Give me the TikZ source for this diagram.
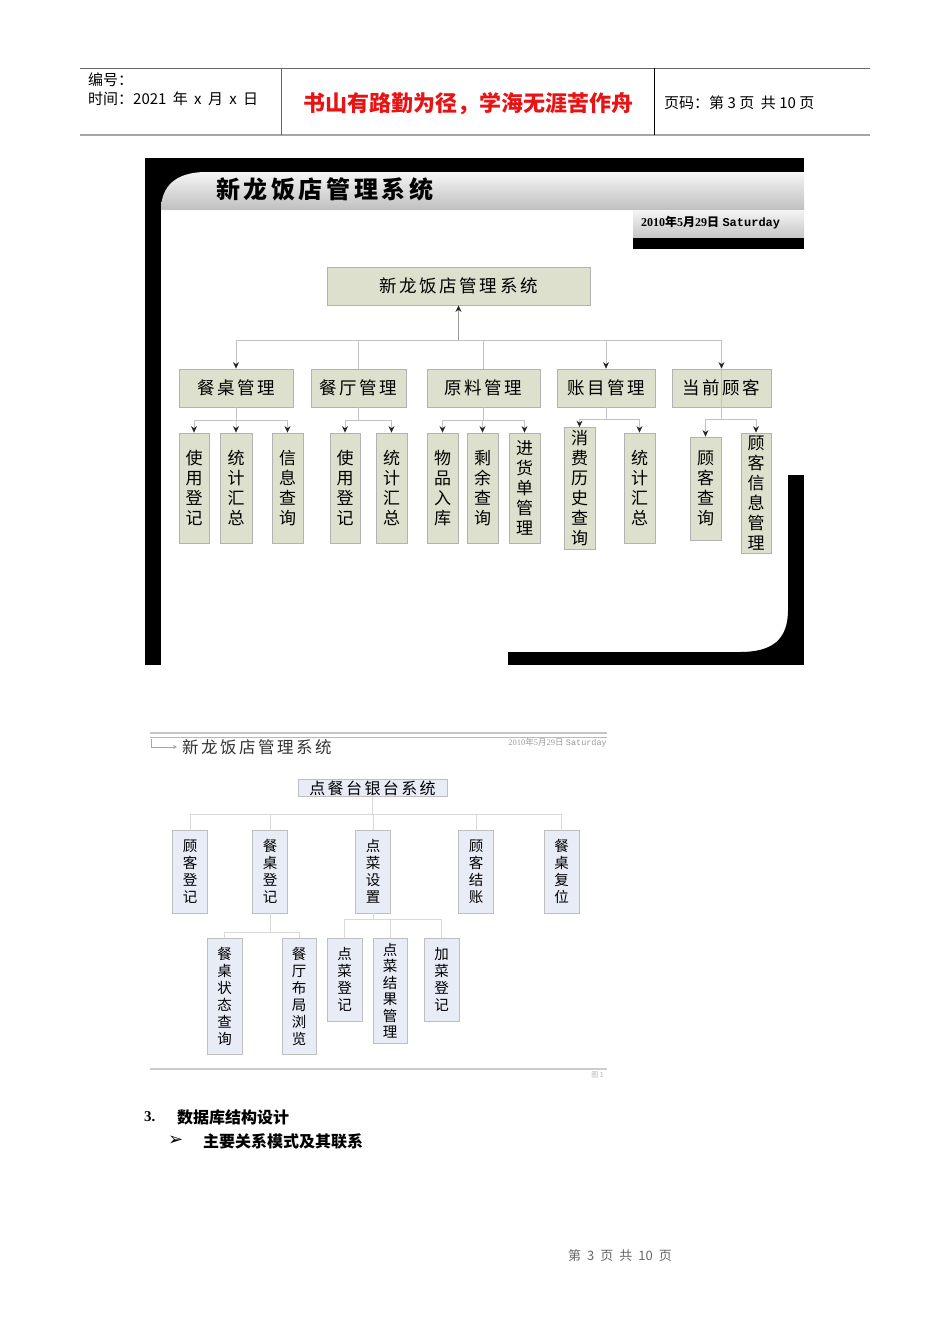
\documentclass[tikz,border=0pt]{standalone}
\usepackage{fontspec}
\setmainfont{Liberation Sans}
\newfontfamily\cjk{Noto Sans CJK SC}
\newfontfamily\cjksp[LetterSpace=15]{Noto Sans CJK SC}
\newfontfamily\monofont{Liberation Mono}
\newfontfamily\timesfont{Liberation Serif}
\newfontfamily\symfont{DejaVu Sans}
\usetikzlibrary{arrows.meta}
\definecolor{boxgreen}{RGB}{220,224,204}
\definecolor{boxblue}{RGB}{232,236,247}
\definecolor{linegray}{RGB}{195,195,195}
\definecolor{mottored}{RGB}{230,20,20}

\begin{document}
\begin{tikzpicture}[x=1pt, y=-1pt, font=\cjk]
\tikzstyle{topbox} = [rectangle, fill=boxgreen, draw=gray!60, line width=0.8, inner sep=0pt, minimum height=38, text centered, font=\cjksp\fontsize{17.5}{20}\selectfont]
\tikzstyle{leaf} = [rectangle, fill=boxgreen, draw=gray!60, line width=0.8, inner sep=0pt, minimum width=31, align=center, font=\cjk\fontsize{17}{20}\selectfont]
\tikzstyle{bluebox} = [rectangle, fill=boxblue, draw=gray!50, line width=0.8, inner sep=0pt, text centered, font=\cjksp\fontsize{16}{18}\selectfont]
\tikzstyle{bleaf} = [rectangle, fill=boxblue, draw=gray!50, line width=0.8, inner sep=0pt, minimum width=35, align=center, font=\cjk\fontsize{14.5}{17}\selectfont]
\tikzstyle{arrow} = [draw=linegray, line width=0.8, -{Stealth[length=6.5pt, width=6pt, color=black!85]}]
\tikzstyle{uparrow} = [draw=gray!80, line width=1, -{Stealth[length=6.5pt, width=6pt, color=black!85]}]
\tikzstyle{link} = [draw=linegray, line width=0.8]
\tikzstyle{thinlink} = [draw=gray!30, line width=0.8]
\useasboundingbox (0,0) rectangle (950,1344);

 %页眉
\draw[line width=1, gray!80!black] (80,68) -- (870,68);
\draw[line width=1.8, gray!70] (80,135) -- (870,135);
\draw[line width=0.8, gray!80!black] (281,68) -- (281,135);
\draw[line width=0.8, black] (654,68) -- (654,135);
\node (num) [anchor=west, inner sep=0pt, font=\cjk\fontsize{15}{17}\selectfont] at (88,80) {编号：};
\node (time) [anchor=west, inner sep=0pt, font=\cjk\fontsize{15}{17}\selectfont] at (88,99) {时间：2021\hspace{3pt} 年\hspace{3pt} x\hspace{3pt} 月\hspace{3pt} x\hspace{3pt} 日};
\node (motto) [text=mottored, font=\cjk\bfseries\fontsize{22}{24}\selectfont] at (468,104) {书山有路勤为径，学海无涯苦作舟};
\node (page) [anchor=west, inner sep=0pt, font=\cjk\fontsize{15}{17}\selectfont] at (664,103) {页码：第 3 页 \ 共 10 页};

 %上图背景
\fill[black] (145,158) rectangle (804,172);
\fill[black] (145,158) rectangle (215,210);
\fill[black] (145,158) rectangle (161,665);
\shade[top color=gray!8, bottom color=gray!50] (161,210) .. controls (161,186) and (176,172) .. (206,172) -- (804,172) -- (804,210) -- cycle;
\shade[top color=gray!8, bottom color=gray!45] (633,210) rectangle (804,238);
\fill[black] (633,238) rectangle (804,249);
\fill[black] (788,475) rectangle (804,665);
\fill[black] (508,652) rectangle (804,665);
\fill[black] (788,610) .. controls (788,640) and (772,652) .. (740,652) -- (788,652) -- cycle;
\node (title) [anchor=west, inner sep=0pt, font=\cjksp\bfseries\fontsize{24}{26}\selectfont] at (216,189) {新龙饭店管理系统};
\node (date) [anchor=west, inner sep=0pt, font=\bfseries\fontsize{12}{13}\selectfont] at (641,223) {{\timesfont 2010}{\cjk 年}{\timesfont 5}{\cjk 月}{\timesfont 29}{\cjk 日} {\monofont Saturday}};

 %定义上图节点
\node (root) [topbox, minimum width=263] at (458.5,286) {新龙饭店管理系统};
\node (tables) [topbox, minimum width=114] at (236,388) {餐桌管理};
\node (hall) [topbox, minimum width=95] at (358.5,388) {餐厅管理};
\node (material) [topbox, minimum width=113] at (483.5,388) {原料管理};
\node (account) [topbox, minimum width=98] at (606,388) {账目管理};
\node (guest) [topbox, minimum width=99] at (721.5,388) {当前顾客};

\node (t1) [leaf, minimum width=30, minimum height=110] at (194,488) {使\\用\\登\\记};
\node (t2) [leaf, minimum width=32, minimum height=110] at (236,488) {统\\计\\汇\\总};
\node (t3) [leaf, minimum height=110] at (287.5,488) {信\\息\\查\\询};
\node (h1) [leaf, minimum width=30, minimum height=110] at (345,488) {使\\用\\登\\记};
\node (h2) [leaf, minimum height=110] at (391.5,488) {统\\计\\汇\\总};
\node (m1) [leaf, minimum height=110] at (442.5,488) {物\\品\\入\\库};
\node (m2) [leaf, minimum height=110] at (482.5,488) {剩\\余\\查\\询};
\node (m3) [leaf, minimum height=110] at (524.5,488) {进\\货\\单\\管\\理};
\node (a1) [leaf, minimum height=122] at (579.5,488.5) {消\\费\\历\\史\\查\\询};
\node (a2) [leaf, minimum height=110] at (639.5,488) {统\\计\\汇\\总};
\node (g1) [leaf, minimum height=103] at (705.5,488.5) {顾\\客\\查\\询};
\node (g2) [leaf, minimum width=30, minimum height=120] at (756,493) {顾\\客\\信\\息\\管\\理};

 %连接上图节点
\coordinate (hub) at (458.5,340);
\draw [uparrow] (hub) -- (root);
\draw [arrow] (hub) -| (tables);
\draw [link] (hub) -| (hall);
\draw [link] (hub) -| (material);
\draw [arrow] (hub) -| (account);
\draw [arrow] (hub) -| (guest);
\draw [link] (guest.north) -- (guest.south);
\draw [arrow] (tables.south) -- ++(0,13) -| (t1);
\draw [arrow] (tables.south) -- ++(0,13) -| (t2);
\draw [arrow] (tables.south) -- ++(0,13) -| (t3);
\draw [arrow] (hall.south) -- ++(0,13) -| (h1);
\draw [arrow] (hall.south) -- ++(0,13) -| (h2);
\draw [arrow] (material.south) -- ++(0,13) -| (m1);
\draw [arrow] (material.south) -- ++(0,13) -| (m2);
\draw [arrow] (material.south) -- ++(0,13) -| (m3);
\draw [arrow] (account.south) -- ++(0,12) -| (a1);
\draw [arrow] (account.south) -- ++(0,12) -| (a2);
\draw [arrow] (guest.south) -- ++(0,12) -| (g1);
\draw [arrow] (guest.south) -- ++(0,12) -| (g2);

 %下图页眉
\draw[line width=1.6, gray!45] (150,733) -- (607,733);
\draw[line width=0.8, gray!55] (150,737.5) -- (607,737.5);
\coordinate (brk) at (151,739);
\node (subtitle) [anchor=west, inner sep=5pt, text=black!80, font=\cjksp\fontsize{16.5}{18}\selectfont] at (177,747) {新龙饭店管理系统};
\draw [gray!70, line width=0.7, -{Stealth[length=4pt, width=4pt]}] (brk) |- (subtitle.west);
\node (date2) [anchor=east, inner sep=0pt, text=gray!80, font=\fontsize{8.5}{9}\selectfont] at (607,743) {{\timesfont 2010}{\cjk 年}{\timesfont 5}{\cjk 月}{\timesfont 29}{\cjk 日} {\monofont Saturday}};

 %定义下图节点
\node (pos) [bluebox, minimum width=149, minimum height=17] at (372.5,788) {点餐台银台系统};
\node (c1) [bleaf, minimum height=83] at (190,871.5) {顾\\客\\登\\记};
\node (c2) [bleaf, minimum height=83] at (270,871.5) {餐\\桌\\登\\记};
\node (c3) [bleaf, minimum height=83] at (373,871.5) {点\\菜\\设\\置};
\node (c4) [bleaf, minimum height=83] at (476,871.5) {顾\\客\\结\\账};
\node (c5) [bleaf, minimum height=83] at (561.5,871.5) {餐\\桌\\复\\位};
\node (d1) [bleaf, minimum height=116] at (224.5,996) {餐\\桌\\状\\态\\查\\询};
\node (d2) [bleaf, minimum width=34, minimum height=116] at (299,996) {餐\\厅\\布\\局\\浏\\览};
\node (e1) [bleaf, minimum height=83] at (344.5,979.5) {点\\菜\\登\\记};
\node (e2) [bleaf, minimum width=34, minimum height=105, font=\cjk\fontsize{14.5}{16.5}\selectfont] at (390,990.5) {点\\菜\\结\\果\\管\\理};
\node (e3) [bleaf, minimum height=83] at (441.5,979.5) {加\\菜\\登\\记};

 %连接下图节点
\coordinate (hub2) at (372.5,814);
\draw [thinlink] (pos) -- (hub2);
\draw [thinlink] (hub2) -| (c1);
\draw [thinlink] (hub2) -| (c2);
\draw [thinlink] (hub2) -| (c3);
\draw [thinlink] (hub2) -| (c4);
\draw [thinlink] (hub2) -| (c5);
\draw [thinlink] (c2.south) -- ++(0,19) -| (d1);
\draw [thinlink] (c2.south) -- ++(0,19) -| (d2);
\draw [thinlink] (c3.south) -- ++(0,6) -| (e1);
\draw [thinlink] (c3.south) -- ++(0,6) -| (e2);
\draw [thinlink] (c3.south) -- ++(0,6) -| (e3);
\draw[line width=2, gray!40] (150,1068.5) -- (607,1068.5);
\node (fig) [anchor=east, inner sep=0pt, text=gray!60, font=\cjk\fontsize{7}{8}\selectfont] at (604,1075) {图 1};

 %正文
\node (secnum) [anchor=west, inner sep=0pt, font=\timesfont\bfseries\fontsize{15}{17}\selectfont] at (144,1117) {3.};
\node (sec) [anchor=west, inner sep=0pt, font=\cjk\bfseries\fontsize{16}{18}\selectfont] at (177,1117) {数据库结构设计};
\node (bullet) [anchor=west, inner sep=0pt, font=\symfont\fontsize{18}{20}\selectfont] at (168,1141) {➢};
\node (subsec) [anchor=west, inner sep=0pt, font=\cjk\bfseries\fontsize{16}{18}\selectfont] at (203,1141) {主要关系模式及其联系};
\node (footer) [text=gray!80!black, font=\cjk\fontsize{13}{15}\selectfont] at (620,1256) {第\hspace{6pt}3\hspace{6pt}页\hspace{6pt}共\hspace{6pt}10\hspace{6pt}页};
\end{tikzpicture}
\end{document}
